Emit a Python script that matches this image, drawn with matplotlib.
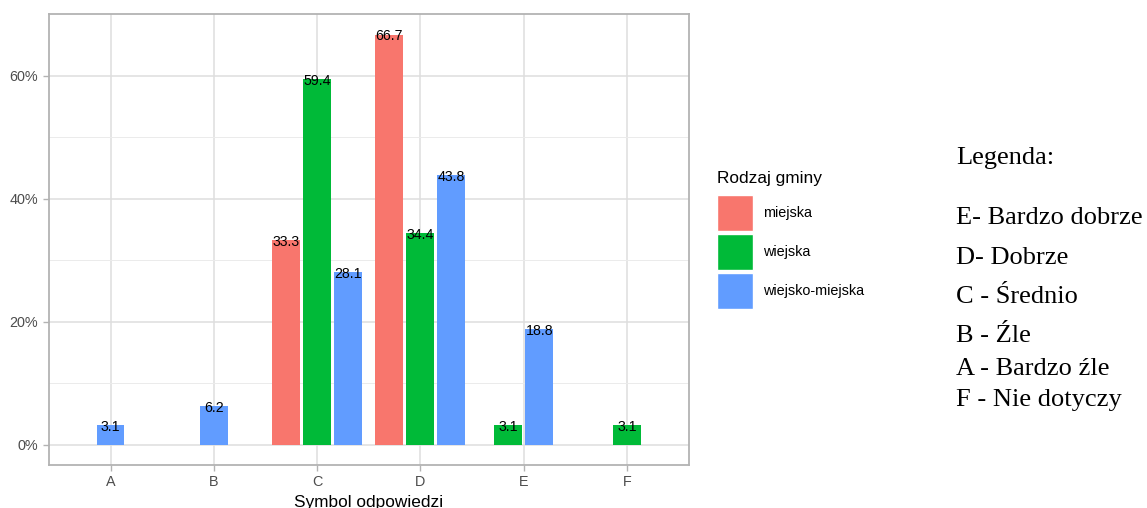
import numpy as np
import matplotlib
matplotlib.use('Agg')
import matplotlib.pyplot as plt
from matplotlib.patches import Patch
from matplotlib.ticker import FixedLocator, FuncFormatter

plt.rcParams['font.family'] = ['Liberation Sans', 'DejaVu Sans']

categories = ['A', 'B', 'C', 'D', 'E', 'F']
groups = ['miejska', 'wiejska', 'wiejsko-miejska']
miejska = [np.nan, np.nan, 33.3, 66.7, np.nan, np.nan]
wiejska = [np.nan, np.nan, 59.4, 34.4, 3.1, 3.1]
wiejsko_miejska = [3.1, 6.2, 28.1, 43.8, 18.8, np.nan]
colors = ['#F8766D', '#00BA38', '#619CFF']

legend_lines = ['Legenda:', 'E- Bardzo dobrze', 'D- Dobrze', 'C - Średnio',
                'B - Źle', 'A - Bardzo źle', 'F - Nie dotyczy']

series = [miejska, wiejska, wiejsko_miejska]

fig = plt.figure(figsize=(11.47, 5.08), dpi=100)
ax = fig.add_axes([0.0423, 0.0846, 0.5584, 0.8878])

# dodge like ggplot position_dodge2(preserve = "single")
slot = 0.3
bw = 0.27
for ci, cat in enumerate(categories):
    present = [gi for gi in range(3) if not np.isnan(series[gi][ci])]
    n = len(present)
    for k, gi in enumerate(present):
        v = series[gi][ci]
        x = ci + 1 + (k - (n - 1) / 2) * slot
        ax.bar(x, v, width=bw, color=colors[gi], zorder=3)
        ax.text(x, v - 0.3, f'{v:.1f}', ha='center', va='center', fontsize=10.2,
                color='black', zorder=4)

ax.set_xlim(0.4, 6.6)
ax.set_ylim(-3.335, 70.035)
ax.set_xticks(range(1, 7))
ax.set_xticklabels(categories)
ax.yaxis.set_major_locator(FixedLocator([0, 20, 40, 60]))
ax.yaxis.set_minor_locator(FixedLocator([10, 30, 50]))
ax.yaxis.set_major_formatter(FuncFormatter(lambda v, p: f'{v:.0f}%'))

ax.grid(True, which='major', color='#DEDEDE', linewidth=1.1, zorder=0)
ax.grid(True, which='minor', axis='y', color='#EBEBEB', linewidth=0.7, zorder=0)
ax.set_axisbelow(True)
for s in ax.spines.values():
    s.set_color('#B3B3B3')
    s.set_linewidth(1.3)
ax.tick_params(axis='both', which='major', colors='#B3B3B3', labelcolor='#4D4D4D',
               labelsize=10.4, length=4, width=1)
ax.tick_params(axis='y', which='minor', length=0)
ax.set_xlabel('Symbol odpowiedzi', fontsize=12.4, color='black', labelpad=4)

# legend (title drawn separately for exact spacing)
fig.text(717 / 1147, 1 - 178 / 508, 'Rodzaj gminy', fontsize=12.4,
         ha='left', va='center', color='black')
handles = [Patch(facecolor=c, edgecolor='white', linewidth=1) for c in colors]
leg = fig.legend(handles, groups, loc='upper left',
                 bbox_to_anchor=(0.6185, 1 - 188 / 508), frameon=False, fontsize=10.4,
                 handlelength=2.5, handleheight=3.45,
                 labelspacing=0.22, handletextpad=0.7, borderpad=0)

ys = [158, 218, 258, 297, 336, 369, 400]
for txt, y in zip(legend_lines, ys):
    fig.text(956 / 1147, 1 - y / 508, txt, fontsize=19, family='Liberation Serif',
             ha='left', va='center', color='black')

fig.savefig('out.png', dpi=100)
